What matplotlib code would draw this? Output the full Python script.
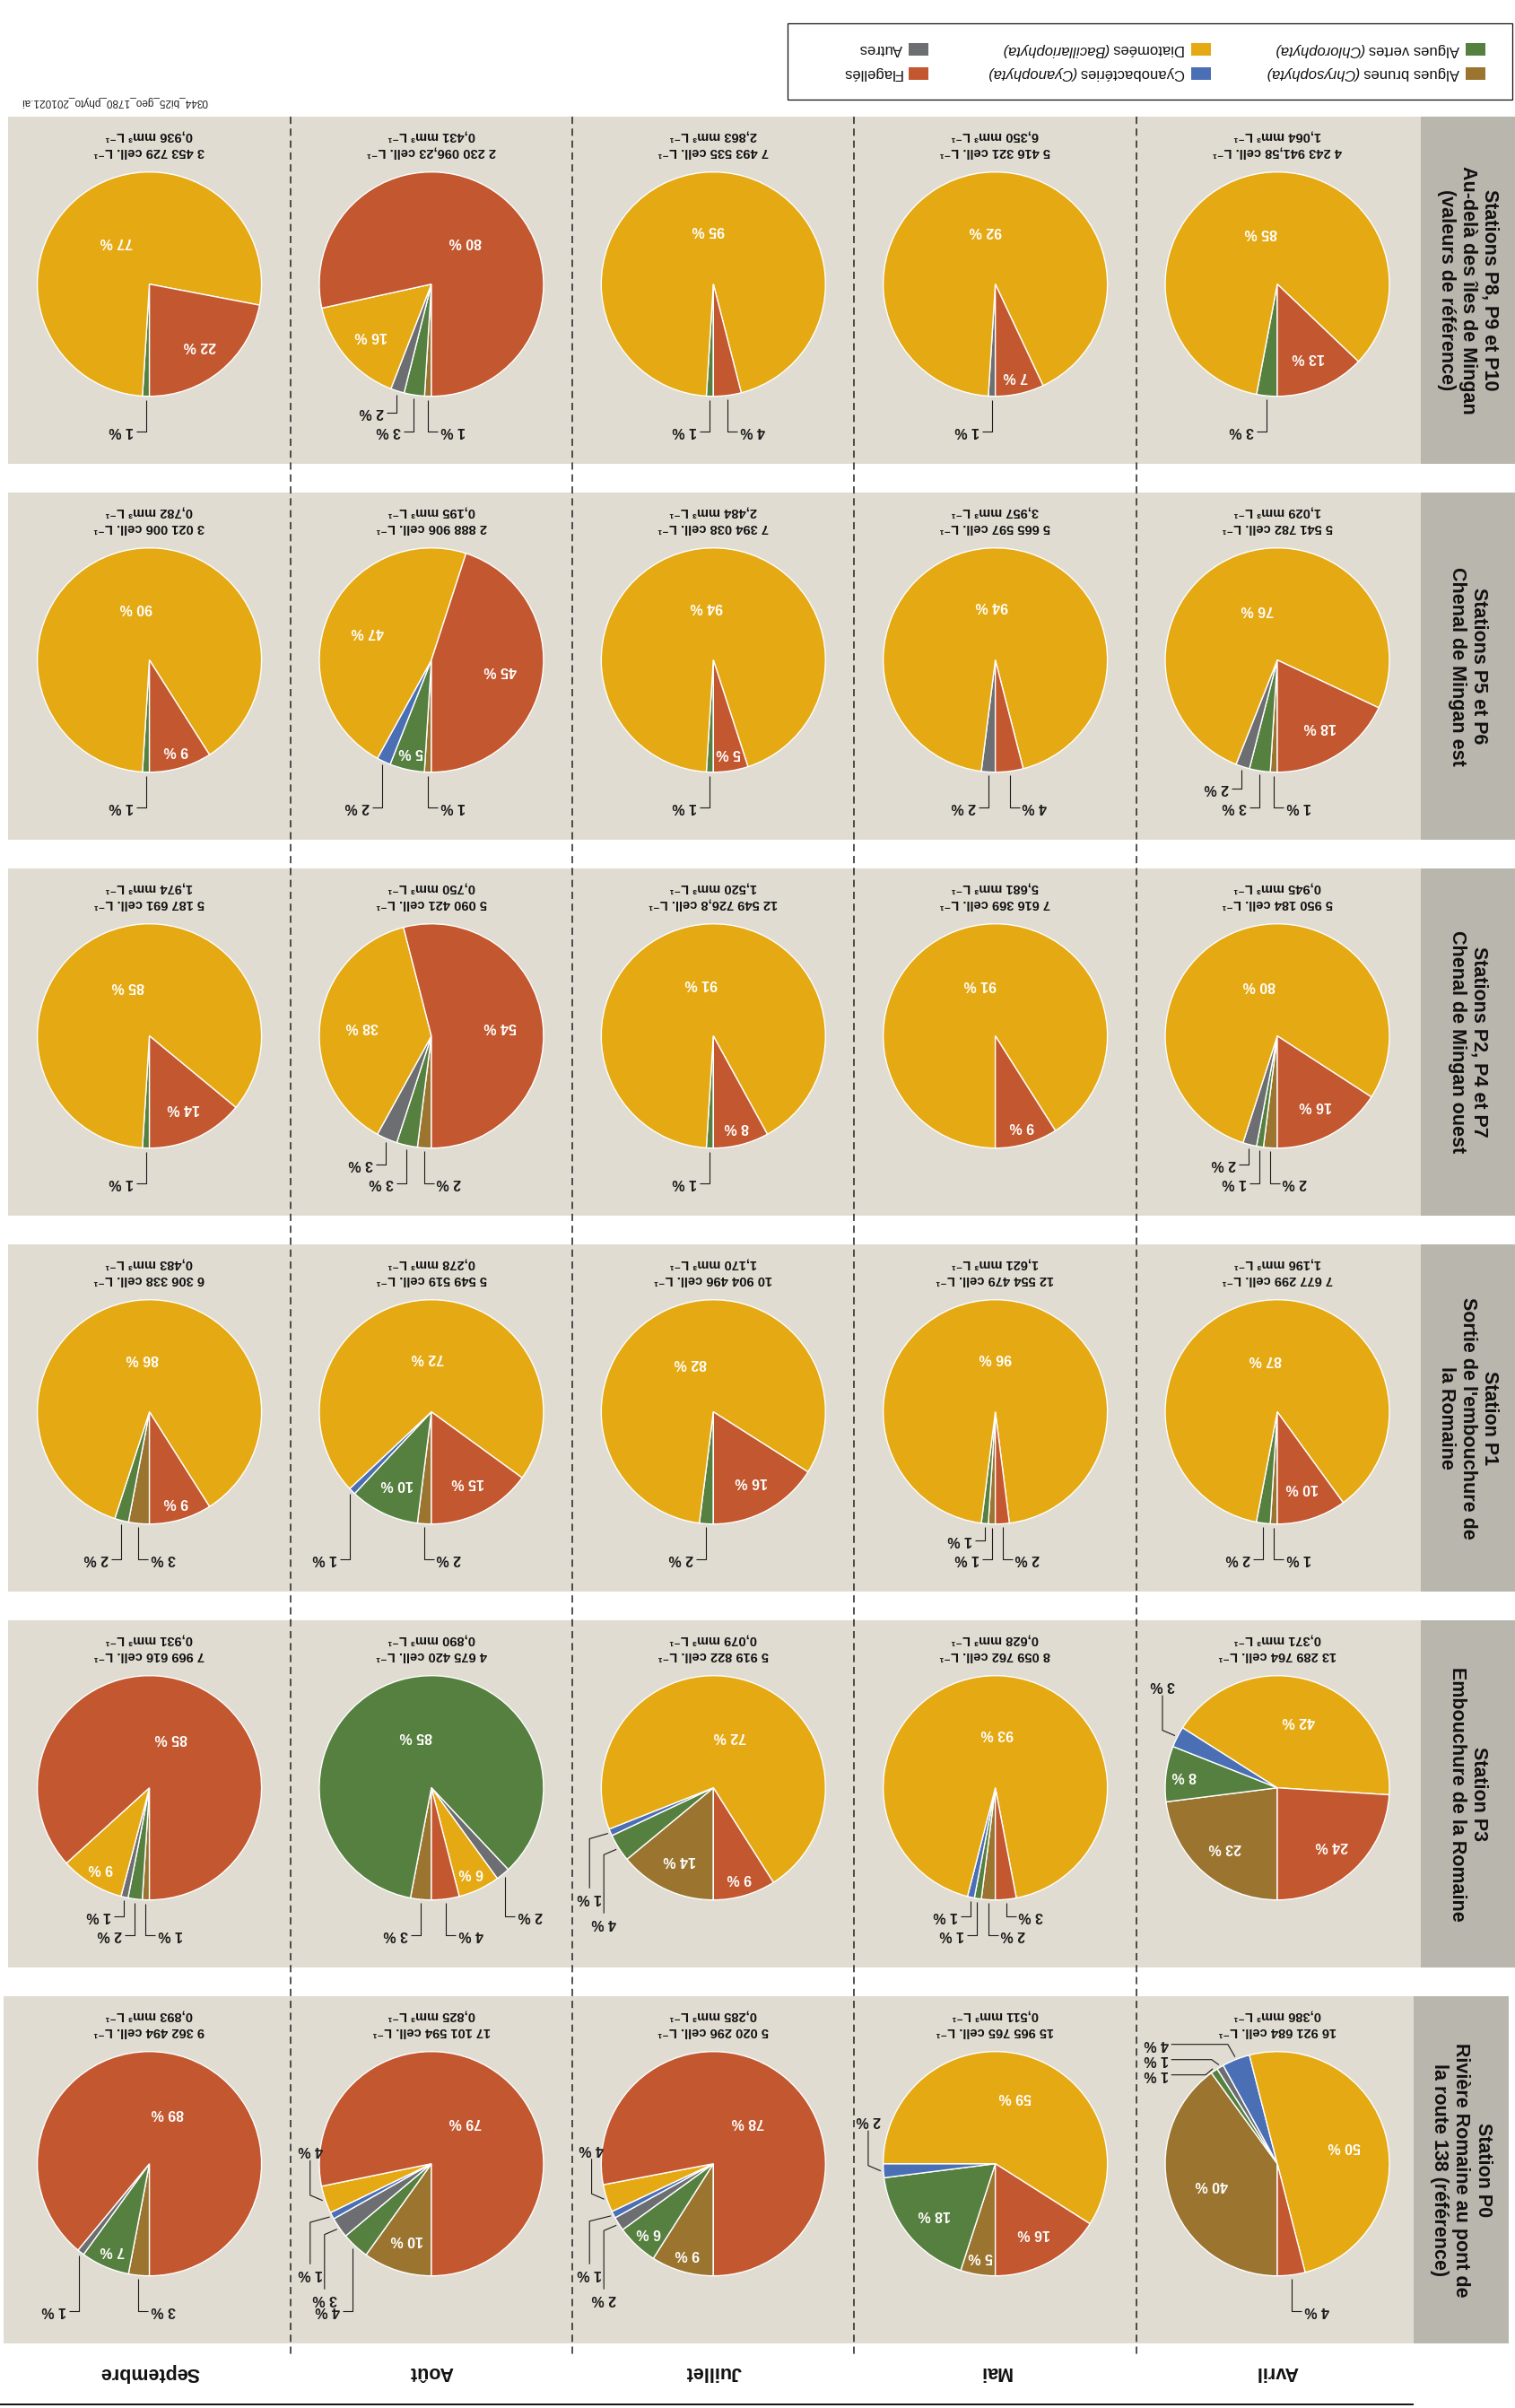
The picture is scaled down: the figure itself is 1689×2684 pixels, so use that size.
import matplotlib
matplotlib.use("Agg")
import matplotlib.pyplot as plt
from matplotlib.patches import Rectangle
import numpy as np

# ------------------------------------------------------------------
# Composition du phytoplancton (% de l'abondance) par station et par mois
# lignes : P0, P3, P1, P2, P5, P8 ; colonnes : Avril, Mai, Juillet, Août, Septembre
# ------------------------------------------------------------------
mois = ["Avril", "Mai", "Juillet", "Août", "Septembre"]

stations = [
    "Station P0\nRivière Romaine au pont de\nla route 138 (référence)",
    "Station P3\nEmbouchure de la Romaine",
    "Station P1\nSortie de l'embouchure de\nla Romaine",
    "Stations P2, P4 et P7\nChenal de Mingan ouest",
    "Stations P5 et P6\nChenal de Mingan est",
    "Stations P8, P9 et P10\nAu-delà des îles de Mingan\n(valeurs de référence)",
]

algues_brunes = [
    [40, 5, 9, 10, 3],
    [23, 2, 14, 3, 1],
    [1, 1, 0, 2, 3],
    [2, 0, 0, 2, 0],
    [1, 0, 0, 1, 0],
    [0, 0, 0, 1, 0],
]
algues_vertes = [
    [1, 18, 6, 4, 7],
    [8, 1, 4, 85, 2],
    [2, 1, 2, 10, 2],
    [1, 0, 1, 3, 1],
    [3, 0, 1, 5, 1],
    [3, 0, 1, 3, 1],
]
autres = [
    [1, 0, 2, 3, 1],
    [0, 0, 0, 2, 1],
    [0, 0, 0, 0, 0],
    [2, 0, 0, 3, 0],
    [2, 2, 0, 0, 0],
    [0, 1, 0, 2, 0],
]
cyanobacteries = [
    [4, 2, 1, 1, 0],
    [3, 1, 1, 0, 0],
    [0, 0, 0, 1, 0],
    [0, 0, 0, 0, 0],
    [0, 0, 0, 2, 0],
    [0, 0, 0, 0, 0],
]
diatomees = [
    [50, 59, 4, 4, 0],
    [42, 93, 72, 6, 9],
    [87, 96, 82, 72, 86],
    [80, 91, 91, 38, 85],
    [76, 94, 94, 47, 90],
    [85, 92, 95, 16, 77],
]
flagelles = [
    [4, 16, 78, 79, 89],
    [24, 3, 9, 4, 85],
    [10, 2, 16, 15, 9],
    [16, 9, 8, 54, 14],
    [18, 4, 5, 45, 9],
    [13, 7, 4, 80, 22],
]

cellules = [
    ["16 921 684", "15 965 765", "5 020 296", "17 101 594", "9 362 494"],
    ["13 289 764", "8 059 762", "5 919 822", "4 675 420", "7 969 616"],
    ["7 677 299", "12 554 479", "10 904 496", "5 549 519", "6 306 338"],
    ["5 950 184", "7 616 369", "12 549 726,8", "5 090 421", "5 187 691"],
    ["5 541 782", "5 665 597", "7 394 038", "2 888 906", "3 021 006"],
    ["4 243 941,58", "5 416 321", "7 493 535", "2 230 096,23", "3 453 729"],
]
biovolumes = [
    ["0,386", "0,511", "0,285", "0,825", "0,893"],
    ["0,371", "0,628", "0,079", "0,890", "0,931"],
    ["1,196", "1,621", "1,170", "0,278", "0,483"],
    ["0,945", "5,681", "1,520", "0,750", "1,974"],
    ["1,029", "3,957", "2,484", "0,195", "0,782"],
    ["1,064", "6,350", "2,863", "0,431", "0,936"],
]

# order of the wedges, clockwise from the start angle
series = [algues_brunes, algues_vertes, autres, cyanobacteries, diatomees, flagelles]
couleurs = ["#9B7530", "#56803F", "#6D6E71", "#4B6FB5", "#E5A913", "#C3572F"]

legende = [
    ("Algues brunes ", "(Chrysophyta)", "#9B7530"),
    ("Algues vertes ", "(Chlorophyta)", "#56803F"),
    ("Cyanobactéries ", "(Cyanophyta)", "#4B6FB5"),
    ("Diatomées ", "(Bacillariophyta)", "#E5A913"),
    ("Flagellés", "", "#C3572F"),
    ("Autres", "", "#6D6E71"),
]
fichier = "0344_bi25_geo_1780_phyto_201021.ai"

# ------------------------------------------------------------------
# Page layout (pixel units, page printed upside down)
# ------------------------------------------------------------------
W, H, DPI = 1689, 2684, 100
FAM = ["Liberation Sans", "DejaVu Sans"]
plt.rcParams["font.family"] = FAM

PANEL = "#E0DCD2"
BANDE = "#B9B6AE"
R = 125.0
ROW_H = 387.0
ROW_STEP = 419.0
COL_STEP = 314.35
X_AVRIL = 1424.0
FS_PCT = 11.5
FS_CELL = 10.5
FS_TITRE = 15.5
FS_LEG = 12.0

fig = plt.figure(figsize=(W / DPI, H / DPI), dpi=DPI)
ax = fig.add_axes([0, 0, 1, 1])
ax.axis("off")


def Y(y):
    return H - y


def T(x, y, s, **kw):
    kw.setdefault("rotation", 180)
    return ax.text(x, Y(y), s, **kw)


def L(pts, **kw):
    xs = [p[0] for p in pts]
    ys = [Y(p[1]) for p in pts]
    ax.plot(xs, ys, color="#1A1A1A", lw=0.8, solid_capstyle="butt", zorder=6, **kw)


def row_top(i):
    return 2225.0 - ROW_STEP * i


def col_x(j):
    return X_AVRIL - COL_STEP * j


def frac_r(v):
    if v < 10:
        return 0.84
    if v < 35:
        return 0.71
    if v < 60:
        return 0.62
    return 0.48


def pct(v):
    return f"{v} %"


def out_label(x, y, s, ha):
    T(x, y, s, ha=ha, va="center", fontsize=FS_PCT, fontweight="bold",
      color="#1A1A1A", zorder=7)


def etiquettes(wedges, vals, cx, cy):
    bas, gbas, haut, hg = [], [], [], []
    for w, v in zip(wedges, vals):
        mid = 0.5 * (w.theta1 + w.theta2)
        th = (-mid) % 360.0
        t = np.deg2rad(th)
        if v >= 5:
            r = R * frac_r(v)
            T(cx + r * np.cos(t), cy + r * np.sin(t), pct(v), ha="center",
              va="center", fontsize=FS_PCT, fontweight="bold", color="white",
              zorder=7)
            continue
        if 140 < th <= 160:
            gbas.append((th, v))
        elif 160 < th <= 230:
            haut.append((th, v))
        elif 230 < th < 300:
            hg.append((th, v))
        else:
            bas.append((th, v))

    def edge(th, extra):
        t = np.deg2rad(th)
        return cx + (R + extra) * np.cos(t), cy + (R + extra) * np.sin(t)

    # labels under the pie, on each side of the start radius
    gauche = sorted([b for b in bas if 90 <= b[0] < 300], key=lambda b: b[0])
    droite = sorted([b for b in bas if not (90 <= b[0] < 300)],
                    key=lambda b: abs(((b[0] + 180) % 360) - 270))
    if (len(droite) == 0 and len(gauche) >= 2) or (len(droite) == 1 and len(gauche) >= 3):
        droite = [gauche.pop(0)] + droite
        droite.sort(key=lambda b: abs(b[0] - 90) if b[0] < 300 else abs(b[0] - 450))
    for side, items in ((-1, gauche), (1, droite)):
        for k, (th, v) in enumerate(items):
            x0, y0 = edge(th, 4)
            yr = cy + 164 - 21 * k
            L([(x0, y0), (x0, yr), (x0 + side * 11, yr)])
            out_label(x0 + side * 14, yr, pct(v), "left" if side > 0 else "right")

    # labels on the lower left side, leaders dropping down
    xprev = 1e9
    for k, (th, v) in enumerate(sorted(gbas)):
        x0, y0 = edge(th, 3)
        xv = min(x0 - 14, xprev - 16)
        xprev = xv
        ye = cy + (140 if k % 2 == 0 else 112)
        L([(x0, y0), (xv, y0 + 6), (xv, ye)])
        out_label(xv, ye + 11, pct(v), "center")

    # labels on the upper left side, leaders rising
    for th, v in haut:
        x0, y0 = edge(th, 3)
        xv = x0 - 14
        L([(x0, y0), (xv, y0 - 6), (xv, y0 - 45)])
        out_label(xv, y0 - 56, pct(v), "center")

    # labels near the top, stacked to the left
    prev = -1e9
    xa = cx - 0.97 * R
    for th, v in sorted(hg, reverse=True):
        x0, y0 = edge(th, 3)
        yl = max(y0 - 14, prev + 17)
        prev = yl
        L([(x0, y0), (x0 - 8, yl), (xa + 3, yl)])
        out_label(xa, yl, pct(v), "right")


# row panels and station bands
for i, nom in enumerate(stations):
    top = row_top(i)
    x_left, x_band, x_end = (4, 1576, 1682) if i == 0 else (9, 1584, 1689)
    ax.add_patch(Rectangle((x_left, Y(top + ROW_H)), x_band - x_left, ROW_H,
                           facecolor=PANEL, edgecolor="none", zorder=0))
    ax.add_patch(Rectangle((x_band, Y(top + ROW_H)), x_end - x_band, ROW_H,
                           facecolor=BANDE, edgecolor="none", zorder=0))
    ax.text(0.5 * (x_band + x_end), Y(top + ROW_H / 2), nom, rotation=270,
            ha="center", va="center", multialignment="center",
            fontsize=FS_TITRE, fontweight="bold", linespacing=1.2,
            color="#111111", zorder=3)

# dashed separators between months
for j in range(4):
    xs = 0.5 * (col_x(j) + col_x(j + 1))
    ax.plot([xs, xs], [Y(130), Y(2625)], color="#222222", lw=1.1,
            linestyle=(0, (5.3, 3.4)), zorder=1)

# pies
for i in range(len(stations)):
    top = row_top(i)
    cy = top + 186.7
    for j in range(len(mois)):
        cx = col_x(j)
        vals = [s[i][j] for s in series]
        keep = [k for k, v in enumerate(vals) if v > 0]
        v_ok = [vals[k] for k in keep]
        c_ok = [couleurs[k] for k in keep]
        wedges, _ = ax.pie(v_ok, colors=c_ok, startangle=-90, counterclock=False,
                           center=(cx, Y(cy)), radius=R,
                           wedgeprops=dict(edgecolor="white", linewidth=1.0))
        for w in wedges:
            w.set_zorder(4)
        etiquettes(wedges, v_ok, cx, cy)
        T(cx, top + 39.3, f"{cellules[i][j]} cell. L\u207b\u00b9", ha="center",
          va="center", fontsize=FS_CELL, fontweight="bold", color="#111111")
        T(cx, top + 21.7, f"{biovolumes[i][j]} mm\u00b3 L\u207b\u00b9", ha="center",
          va="center", fontsize=FS_CELL, fontweight="bold", color="#111111")

# month headings and rule
for j, m in enumerate(mois):
    T(col_x(j), 2644, m, ha="center", va="center", fontsize=FS_TITRE,
      fontweight="bold", color="#111111")
ax.plot([0, 1575], [Y(2680), Y(2680)], color="#111111", lw=1.4)

# legend
ax.add_patch(Rectangle((878, Y(111)), 808, 85, facecolor="white",
                       edgecolor="#111111", lw=0.9, zorder=2))
renderer = fig.canvas.get_renderer()
sq_x = [1634, 1328, 1013]
sq_y = [82, 55]
for k, (nom, latin, col) in enumerate(legende):
    c, r = k // 2, k % 2
    x0, yc = sq_x[c], sq_y[r]
    ax.add_patch(Rectangle((x0, Y(yc + 7)), 22, 14, facecolor=col,
                           edgecolor="none", zorder=3))
    t1 = T(x0 - 7, yc, nom.strip() if not latin else nom, ha="right",
           va="center", fontsize=FS_LEG, color="#111111", zorder=3)
    if latin:
        wpx = t1.get_window_extent(renderer=renderer).width
        T(x0 - 7 - wpx, yc, latin, ha="right", va="center", fontsize=FS_LEG,
          fontstyle="italic", color="#111111", zorder=3)

T(128, 113, fichier, ha="center", va="center", fontsize=8.5, color="#222222")

ax.set_xlim(0, W)
ax.set_ylim(0, H)
ax.set_aspect("equal", adjustable="box")
fig.savefig("out.png", dpi=DPI, facecolor="white")
